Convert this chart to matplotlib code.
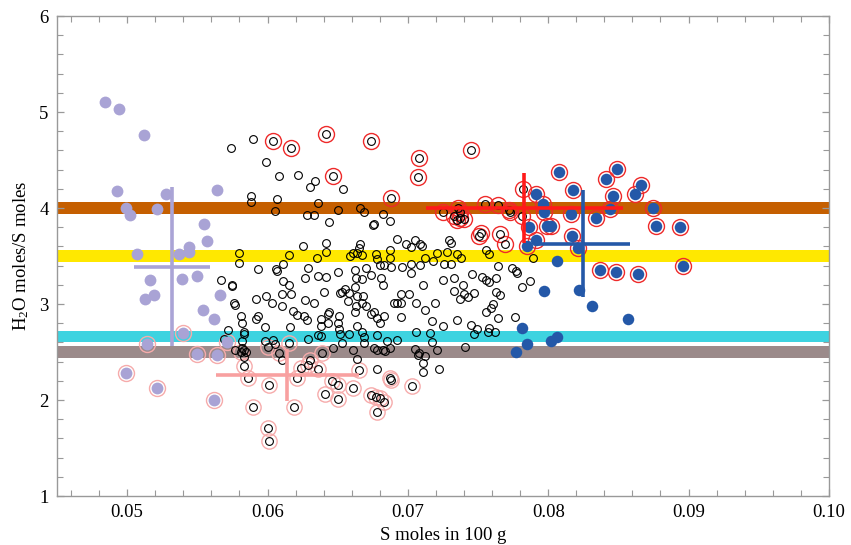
import matplotlib
matplotlib.use("Agg")
import matplotlib.pyplot as plt
from matplotlib.ticker import MultipleLocator

plt.rcParams['font.family'] = ['Liberation Serif', 'DejaVu Serif']
plt.rcParams['mathtext.fontset'] = 'custom'
plt.rcParams['mathtext.rm'] = 'Liberation Serif'
plt.rcParams['mathtext.default'] = 'rm'

# ---------------- data ----------------
band_levels = [4.0, 3.5, 2.66, 2.5]
band_colors = ['#c55f00', '#ffe800', '#3ed3e0', '#9b8a8a']

open_x = [0.0574,0.0590,0.0599,0.0608,0.0622,0.0634,0.0630,0.0654,0.0588,0.0588,0.0607,0.0605,0.0636,0.0628,0.0633,0.0650,0.0666,0.0669,0.0682,0.0687,0.0644,0.0676,0.0675,0.0692,0.0642,0.0625,0.0666,0.0665,0.0664,0.0687,0.0580,0.0580,0.0615,0.0635,0.0642,0.0659,0.0661,0.0667,0.0677,0.0678,0.0687,0.0611,0.0606,0.0607,0.0629,0.0650,0.0670,0.0680,0.0683,0.0688,0.0636,0.0642,0.0627,0.0662,0.0663,0.0667,0.0674,0.0682,0.0681,0.0611,0.0615,0.0575,0.0655,0.0662,
          0.0699,0.0705,0.0702,0.0710,0.0709,0.0729,0.0731,0.0712,0.0718,0.0721,0.0728,0.0735,0.0738,0.0726,0.0731,0.0756,0.0758,0.0702,0.0709,0.0702,0.0696,0.0764,0.0774,0.0777,0.0778,0.0789,0.0746,0.0753,0.0756,0.0758,0.0763,0.0725,0.0733,0.0739,0.0711,0.0781,0.0787,
          0.0592,0.0599,0.0610,0.0617,0.0603,0.0610,0.0576,0.0577,0.0627,0.0633,0.0640,0.0618,0.0621,0.0626,0.0628,0.0581,0.0582,0.0593,0.0592,0.0598,0.0604,0.0598,0.0638,0.0643,0.0638,0.0643,0.0644,0.0652,0.0653,0.0658,0.0657,0.0664,0.0668,0.0667,0.0663,0.0670,0.0662,0.0674,0.0676,0.0678,0.0680,0.0683,0.0690,0.0692,0.0651,0.0650,0.0651,0.0652,0.0658,0.0664,0.0667,0.0669,0.0669,0.0678,0.0685,0.0692,0.0583,0.0582,0.0577,0.0583,0.0605,0.0610,0.0638,0.0636,0.0616,0.0629,0.0647,0.0653,0.0661,0.0664,0.0676,0.0678,0.0682,0.0684,0.0687,0.0678,
          0.0695,0.0701,0.0706,0.0712,0.0719,0.0717,0.0725,0.0735,0.0745,0.0749,0.0747,0.0758,0.0757,0.0762,0.0764,0.0756,0.0759,0.0761,0.0776,0.0737,0.0740,0.0743,0.0747,0.0733,0.0763,0.0766,0.0695,0.0695,0.0706,0.0716,0.0717,0.0721,0.0741,0.0705,0.0708,0.0707,0.0712,0.0711,0.0711,0.0722,
          0.0593,0.0567,0.0575,0.0583,0.0572,0.0569,0.0582,0.0585,0.0583]
open_y = [4.63,4.72,4.48,4.33,4.34,4.28,4.22,4.20,4.12,4.06,4.09,3.97,4.05,3.93,3.93,3.98,4.00,3.96,3.94,3.86,3.85,3.83,3.82,3.68,3.64,3.60,3.63,3.58,3.53,3.56,3.53,3.43,3.51,3.48,3.54,3.50,3.53,3.51,3.52,3.47,3.48,3.42,3.36,3.34,3.37,3.33,3.38,3.41,3.41,3.39,3.29,3.28,3.27,3.35,3.27,3.26,3.30,3.20,3.27,3.24,3.20,3.20,3.16,3.18,
          3.62,3.67,3.59,3.60,3.63,3.67,3.64,3.48,3.45,3.53,3.54,3.52,3.48,3.42,3.42,3.56,3.52,3.42,3.41,3.32,3.39,3.40,3.38,3.34,3.32,3.48,3.31,3.28,3.25,3.23,3.27,3.25,3.27,3.20,3.20,3.18,3.24,
          3.05,3.08,3.10,3.10,3.01,2.98,3.01,2.99,3.04,3.01,3.12,2.93,2.885,2.87,2.83,2.87,2.80,2.87,2.84,2.76,2.625,2.61,2.84,2.80,2.77,2.90,2.92,3.11,3.13,3.11,3.03,3.08,3.08,3.01,2.98,2.98,2.92,2.90,2.92,2.85,2.80,2.87,3.01,3.01,2.87,2.80,2.74,2.69,2.69,2.77,2.71,2.66,2.59,2.68,2.61,2.625,2.69,2.61,2.52,2.52,2.58,2.42,2.67,2.68,2.76,2.64,2.54,2.59,2.52,2.43,2.54,2.52,2.52,2.51,2.54,2.32,
          3.10,3.10,3.01,2.94,3.01,2.82,2.77,2.83,2.78,2.74,2.69,2.75,2.71,2.71,2.85,2.92,2.955,3.00,2.86,3.05,3.10,3.07,3.11,3.14,3.13,3.09,3.01,2.86,2.71,2.70,2.60,2.52,2.55,2.53,2.49,2.47,2.46,2.39,2.29,2.32,
          3.36,3.25,3.19,2.71,2.73,2.64,2.54,2.50,2.45]

open_red_x = [0.0604,0.0617,0.0642,0.0674,0.0647,0.0688,0.0745,0.0708,0.0707,0.0782,0.0755,0.0764,0.0772,0.0773,0.0781,0.0725,0.0736,0.0733,0.0737,0.0740,0.0735,0.0737,0.0752,0.0751,0.0766,0.0769]
open_red_y = [4.70,4.63,4.77,4.70,4.33,4.10,4.60,4.52,4.32,4.20,4.04,4.03,3.98,3.96,3.92,3.96,4.00,3.92,3.90,3.89,3.875,3.96,3.74,3.71,3.73,3.63]

open_pink_x = [0.0583,0.0586,0.0601,0.0590,0.0619,0.0600,0.0601,0.0621,0.0624,0.0630,0.0629,0.0636,0.0639,0.0600,0.0615,0.0608,0.0581,0.0646,0.0650,0.0661,0.0641,0.0650,0.0665,0.0674,0.0677,0.0680,0.0683,0.0678,0.0687,0.0688,0.0703]
open_pink_y = [2.35,2.23,2.16,1.93,1.93,1.705,1.57,2.23,2.33,2.42,2.36,2.32,2.49,2.55,2.59,2.49,2.50,2.20,2.16,2.13,2.06,2.01,2.31,2.05,2.03,2.02,1.98,1.88,2.23,2.21,2.15]

lav_x = [0.0484,0.0494,0.0512,0.0493,0.0528,0.0564,0.0499,0.0502,0.0521,0.0555,0.0557,0.0544,0.0544,0.0507,0.0537,0.0516,0.0539,0.0550,0.0519,0.0513,0.0566,0.0554,0.0562]
lav_y = [5.10,5.03,4.76,4.18,4.15,4.19,4.00,3.93,3.99,3.83,3.66,3.59,3.54,3.52,3.52,3.25,3.26,3.29,3.09,3.05,3.09,2.94,2.84]
lav_pink_x = [0.0540,0.0514,0.0571,0.0550,0.0564,0.0499,0.0521,0.0562]
lav_pink_y = [2.70,2.58,2.60,2.48,2.47,2.28,2.12,2.00]

blue_x = [0.0806,0.0797,0.0822,0.0781,0.0785,0.0777,0.0806,0.0802,0.0831,0.0857]
blue_y = [3.45,3.14,3.15,2.75,2.58,2.50,2.66,2.61,2.98,2.84]
blue_red_x = [0.0808,0.0818,0.0791,0.0796,0.0797,0.0816,0.0802,0.0799,0.0786,0.0817,0.0791,0.0785,0.0821,0.0837,0.0848,0.0864,0.0896,0.0877,0.0894,0.0875,0.0834,0.0844,0.0846,0.0841,0.0849,0.0866,0.0862]
blue_red_y = [4.37,4.19,4.15,4.04,3.96,3.94,3.81,3.81,3.80,3.71,3.67,3.60,3.58,3.35,3.33,3.31,3.40,3.81,3.80,4.00,3.90,3.99,4.12,4.30,4.41,4.24,4.15]

# group means with spreads (crosses)
cross_x = [0.0532, 0.0614, 0.0783, 0.0825]
cross_y = [3.39, 2.26, 4.00, 3.63]
cross_xerr = [0.0027, 0.0051, 0.0070, 0.0033]
cross_yerr = [0.83, 0.27, 0.36, 0.555]
cross_colors = ['#aaa4d6', '#f8a0a0', '#ff1a1a', '#2458a8']

LAV = '#a9a3d5'
BLUE = '#2458a8'
RED = '#ee2a2a'
PINK = '#f6abab'

# ---------------- figure ----------------
fig = plt.figure(figsize=(8.51, 5.45), dpi=100)
ax = fig.add_axes([0.067, 0.0899, 0.907, 0.8807])

for lvl, c in zip(band_levels, band_colors):
    ax.axhspan(lvl - 0.06, lvl + 0.06, color=c, lw=0, zorder=1)

ax.plot(open_red_x, open_red_y, 'o', ms=11.5, mfc='none', mec=RED, mew=1.0, zorder=3)
ax.plot(open_pink_x, open_pink_y, 'o', ms=11, mfc='none', mec=PINK, mew=1.0, zorder=3)
ax.plot(lav_pink_x, lav_pink_y, 'o', ms=11.5, mfc='none', mec=PINK, mew=1.0, zorder=3)
ax.plot(blue_red_x, blue_red_y, 'o', ms=11.5, mfc='none', mec=RED, mew=1.0, zorder=3)

ax.plot(open_x + open_red_x + open_pink_x, open_y + open_red_y + open_pink_y, 'o',
        ms=5.6, mfc='none', mec='black', mew=0.8, zorder=4)
ax.plot(lav_x + lav_pink_x, lav_y + lav_pink_y, 'o', ms=8.5, mfc=LAV, mec='none', zorder=4)
ax.plot(blue_x + blue_red_x, blue_y + blue_red_y, 'o', ms=8.3, mfc=BLUE, mec='none', zorder=4)

for cx, cy, ex, ey, c in zip(cross_x, cross_y, cross_xerr, cross_yerr, cross_colors):
    ax.errorbar([cx], [cy], xerr=[ex], yerr=[ey], fmt='none', ecolor=c,
                elinewidth=2.6, capsize=0, zorder=5)

ax.set_xlim(0.045, 0.10)
ax.set_ylim(1, 6)
ax.xaxis.set_major_locator(MultipleLocator(0.01))
ax.xaxis.set_minor_locator(MultipleLocator(0.002))
ax.yaxis.set_major_locator(MultipleLocator(1))
ax.yaxis.set_minor_locator(MultipleLocator(0.2))
ax.set_xticks([0.05, 0.06, 0.07, 0.08, 0.09, 0.10])
ax.set_xticklabels(['0.05', '0.06', '0.07', '0.08', '0.09', '0.10'])
ax.tick_params(which='both', direction='in', top=True, right=True, color='#999999',
               labelsize=13.5, pad=6)
ax.tick_params(which='major', length=5, width=0.9)
ax.tick_params(which='minor', length=4, width=0.8)
for s in ax.spines.values():
    s.set_color('#999999')
    s.set_linewidth(1.0)

ax.set_xlabel('S moles in 100 g', fontsize=13.5, labelpad=4)
ax.set_ylabel('H$_2$O moles/S moles', fontsize=13.5, labelpad=6)

fig.savefig('out.png', dpi=100)
